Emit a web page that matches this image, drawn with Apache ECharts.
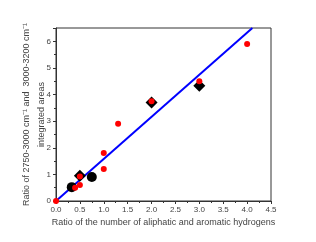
<!DOCTYPE html>
<html><head><meta charset="utf-8">
<script src="https://cdn.jsdelivr.net/npm/echarts@6/dist/echarts.min.js"></script>
<style>html,body{margin:0;padding:0;background:#fff}#c{width:316px;height:242px}</style>
</head><body><div id="c"></div>
<script>
var xTicks = [0, 0.5, 1.0, 1.5, 2.0, 2.5, 3.0, 3.5, 4.0, 4.5];
var yTicks = [0, 1, 2, 3, 4, 5, 6];
var redPoints = [[0,0],[0.4,0.5],[0.5,0.6],[0.5,0.92],[1.0,1.8],[1.0,1.2],[1.3,2.9],[2.0,3.75],[3.0,4.5],[4.0,5.9]];
var blackDiamonds = [[0.5,0.95],[2.0,3.7],[3.0,4.33]];
var blackCircles = [[0.33,0.52],[0.75,0.9]];
var fitLine = [[0,0],[4.11,6.5]];
var xName = 'Ratio of the number of aliphatic and aromatic hydrogens';
var yName = 'Ratio of 2750-3000 cm⁻¹ and  3000-3200 cm⁻¹\nintegrated areas';

var chart = echarts.init(document.getElementById('c'));
var axisCommon = {
  axisLine: {show: true, onZero: false, lineStyle: {color: '#333', width: 1}},
  axisTick: {show: true, inside: false, length: 3, lineStyle: {color: '#333'}},
  minorTick: {show: true, splitNumber: 2, length: 2, lineStyle: {color: '#333'}},
  splitLine: {show: false},
  axisLabel: {color: '#444', fontSize: 8, fontFamily: 'Liberation Sans', margin: 5},
  nameTextStyle: {color: '#444', fontSize: 9, fontFamily: 'Liberation Sans'},
  nameMoveOverlap: false
};
chart.setOption({
  animation: false,
  grid: {left: 56, right: 45, top: 28, bottom: 41, show: true, borderColor: '#333', borderWidth: 1, containLabel: false, outerBoundsMode: 'none'},
  xAxis: Object.assign({}, axisCommon, {
    type: 'value', min: 0, max: 4.5, interval: 0.5,
    name: xName, nameLocation: 'middle', nameGap: 17,
    axisLabel: Object.assign({}, axisCommon.axisLabel, {margin: 5, formatter: function(v){return v.toFixed(1);}})
  }),
  yAxis: Object.assign({}, axisCommon, {
    type: 'value', min: 0, max: 6.5, interval: 1,
    name: yName, nameLocation: 'middle', nameGap: 7,
    nameTextStyle: {color: '#444', fontSize: 9, fontFamily: 'Liberation Sans', lineHeight: 15},
    axisLabel: Object.assign({}, axisCommon.axisLabel, {margin: 5, formatter: function(v){return Number.isInteger(v) ? String(v) : '';}})
  }),
  series: [
    {type: 'line', data: fitLine, symbol: 'none', lineStyle: {color: '#0000ff', width: 2}, clip: true, z: 2},
    {type: 'scatter', data: blackCircles, symbol: 'circle', symbolSize: 10, itemStyle: {color: '#000', opacity: 1}, z: 3},
    {type: 'scatter', data: blackDiamonds, symbol: 'diamond', symbolSize: 12, itemStyle: {color: '#000', opacity: 1}, z: 3},
    {type: 'scatter', data: redPoints, symbol: 'circle', symbolSize: 6, itemStyle: {color: '#ff0000', opacity: 1}, z: 4}
  ]
});
</script></body></html>
